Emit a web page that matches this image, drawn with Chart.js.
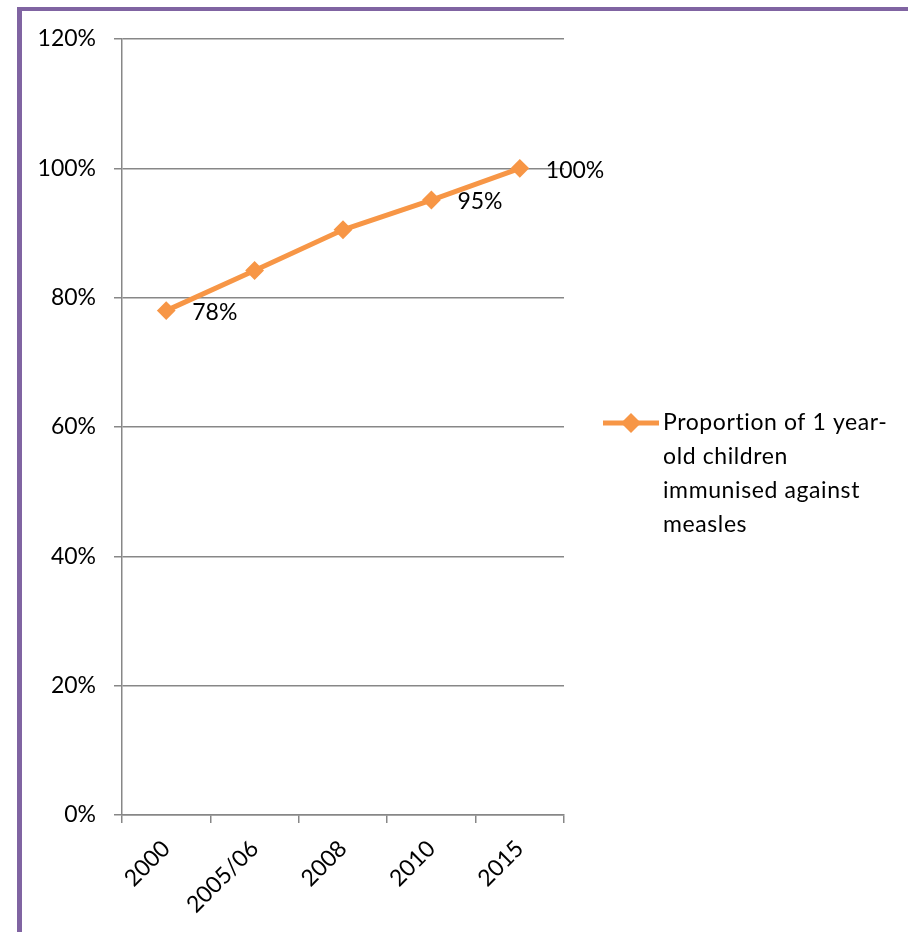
<!DOCTYPE html>
<html>
<head>
<meta charset="utf-8">
<script src="https://cdn.jsdelivr.net/npm/chart.js@4.4.1/dist/chart.umd.min.js"></script>
<style>
    html, body { margin: 0; padding: 0; background: #fff; }
    #wrap { position: relative; width: 908px; height: 932px; overflow: hidden; }
    #frame {
        position: absolute; left: 17px; top: 7px; width: 1000px; height: 1000px;
        border-left: 5px solid #8064A2; border-top: 4px solid #8064A2;
        pointer-events: none;
    }
</style>
</head>
<body>
<div id="wrap">
    <canvas id="measlesChart" width="908" height="932"></canvas>
    <div id="frame"></div>
</div>
<script>
// Chart data
const years = ['2000', '2005/06', '2008', '2010', '2015'];
const immunised = [78, 84.2, 90.5, 95.1, 100];
const showValueLabel = [true, false, false, true, true];
const yTicks = [0, 20, 40, 60, 80, 100, 120];
const seriesName = 'Proportion of 1 year-old children immunised against measles';
const legendLines = ['Proportion of 1 year-', 'old children', 'immunised against', 'measles'];

const ORANGE = '#F79646';
const GRID = '#878787';
const FONT = 'Lato, "Open Sans", sans-serif';
const FONT_SIZE = 23;

// Draws data labels next to selected points
const valueLabels = {
    id: 'valueLabels',
    afterDatasetsDraw(chart) {
        const ctx = chart.ctx;
        const meta = chart.getDatasetMeta(0);
        ctx.save();
        ctx.font = FONT_SIZE + 'px ' + FONT;
        ctx.fillStyle = '#000';
        ctx.textAlign = 'left';
        ctx.textBaseline = 'middle';
        meta.data.forEach(function(pt, i) {
            if (!showValueLabel[i]) return;
            ctx.fillText(Math.round(immunised[i]) + '%', pt.x + 26, pt.y + 2);
        });
        ctx.restore();
    }
};

// Legend on the right with wrapped text
const sideLegend = {
    id: 'sideLegend',
    afterDraw(chart) {
        const ctx = chart.ctx;
        const area = chart.chartArea;
        const x0 = area.right + 39;
        const y0 = area.top + 384;
        ctx.save();
        ctx.strokeStyle = ORANGE;
        ctx.lineWidth = 5;
        ctx.beginPath();
        ctx.moveTo(x0, y0);
        ctx.lineTo(x0 + 56, y0);
        ctx.stroke();
        ctx.fillStyle = ORANGE;
        ctx.beginPath();
        ctx.moveTo(x0 + 28 - 10, y0);
        ctx.lineTo(x0 + 28, y0 - 10);
        ctx.lineTo(x0 + 28 + 10, y0);
        ctx.lineTo(x0 + 28, y0 + 10);
        ctx.closePath();
        ctx.fill();
        ctx.font = FONT_SIZE + 'px ' + FONT;
        ctx.letterSpacing = '0.6px'; // also stops the "ti" ligature
        ctx.fillStyle = '#000';
        ctx.textAlign = 'left';
        ctx.textBaseline = 'middle';
        legendLines.forEach(function(line, i) {
            ctx.fillText(line, x0 + 60, y0 + i * 33.7);
        });
        ctx.restore();
    }
};

function initChart() {
    const ctx = document.getElementById('measlesChart');
    new Chart(ctx, {
        type: 'line',
        data: {
            labels: years,
            datasets: [{
                label: seriesName,
                data: immunised,
                borderColor: ORANGE,
                backgroundColor: ORANGE,
                borderWidth: 5,
                pointStyle: 'rectRot',
                pointRadius: 8,
                pointBorderWidth: 2,
                pointBackgroundColor: ORANGE,
                pointBorderColor: ORANGE,
                tension: 0
            }]
        },
        plugins: [valueLabels, sideLegend],
        options: {
            responsive: false,
            animation: false,
            layout: {
                padding: { top: 39, right: 344, bottom: 0, left: 0 }
            },
            plugins: {
                legend: { display: false },
                tooltip: { enabled: false },
                title: { display: false }
            },
            scales: {
                x: {
                    offset: true,
                    grid: {
                        offset: true,
                        drawOnChartArea: false,
                        drawTicks: true,
                        tickLength: 8,
                        color: GRID,
                        lineWidth: 1.5
                    },
                    border: { display: true, color: GRID, width: 1.5 },
                    ticks: {
                        color: '#000',
                        font: { family: FONT, size: FONT_SIZE },
                        minRotation: 45,
                        maxRotation: 45,
                        padding: 12
                    },
                    afterFit(scale) { scale.height = 117; }
                },
                y: {
                    min: 0,
                    max: 120,
                    afterBuildTicks(scale) {
                        scale.ticks = yTicks.map(v => ({ value: v }));
                    },
                    grid: {
                        color: GRID,
                        lineWidth: 1.5,
                        tickLength: 8
                    },
                    border: { display: true, color: GRID, width: 1.5 },
                    ticks: {
                        color: '#000',
                        font: { family: FONT, size: FONT_SIZE },
                        padding: 18,
                        callback: v => v + '%'
                    },
                    afterFit(scale) { scale.width = 122; }
                }
            }
        }
    });
}

document.addEventListener('DOMContentLoaded', initChart);
</script>
</body>
</html>
